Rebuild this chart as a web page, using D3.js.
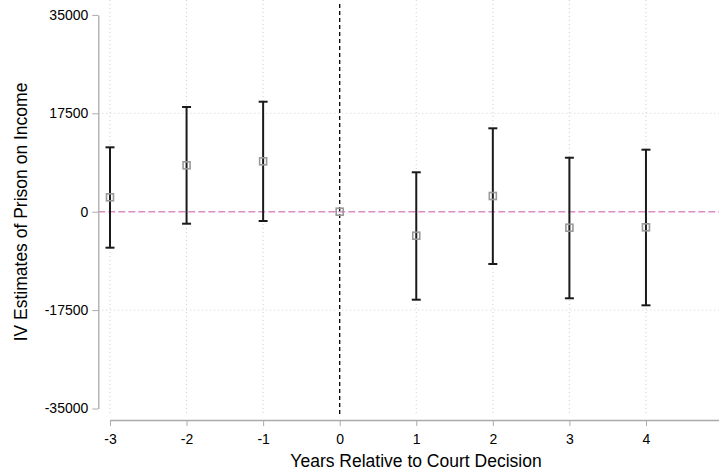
<!DOCTYPE html>
<html><head><meta charset="utf-8">
<script src="https://cdn.jsdelivr.net/npm/d3@7"></script>
<style>body{margin:0;background:#fff}text{font-family:"Liberation Sans",Arial,sans-serif}</style>
</head><body><svg id="c" width="719" height="473"></svg>
<script>
const years = [-3, -2, -1, 0, 1, 2, 3, 4];
const estimates = [2560, 8250, 8960, 0, -4270, 2790, -2850, -2780];
const ciUpper = [11450, 18620, 19560, 0, 7010, 14830, 9600, 11030];
const ciLower = [-6400, -2135, -1650, 0, -15650, -9300, -15400, -16650];
const yTicks = [-35000, -17500, 0, 17500, 35000];
const xTicks = [-3, -2, -1, 0, 1, 2, 3, 4];

const svg = d3.select("#c");
const x = d3.scaleLinear().domain([-3, 4.95]).range([110, 718.7]);
const y = d3.scaleLinear().domain([-35000, 35000]).range([408.5, 14.9]);
const yAxisX = 98.3, xAxisY = 420;
const fmt = d => String(d);

// grid
svg.append("g").selectAll("line").data(xTicks.filter(d => d !== 0)).join("line")
  .attr("x1", d => x(d)).attr("x2", d => x(d)).attr("y1", 0).attr("y2", 416)
  .attr("stroke", "#cfcfcf").attr("stroke-width", 1).attr("stroke-dasharray", "1,3");
svg.append("g").selectAll("line").data([17500, -17500]).join("line")
  .attr("x1", yAxisX).attr("x2", 719).attr("y1", d => y(d)).attr("y2", d => y(d))
  .attr("stroke", "#cfcfcf").attr("stroke-width", 1).attr("stroke-dasharray", "1,3");

// zero line
svg.append("line").attr("x1", yAxisX).attr("x2", 719).attr("y1", y(0)).attr("y2", y(0))
  .attr("stroke", "#dc8cc4").attr("stroke-width", 1.4).attr("stroke-dasharray", "7,3");
// vertical line at 0
svg.append("line").attr("x1", x(0)).attr("x2", x(0)).attr("y1", 4).attr("y2", 416)
  .attr("stroke", "#000").attr("stroke-width", 1.3).attr("stroke-dasharray", "4,3");

// axes
const ya = svg.append("g").attr("transform", `translate(${yAxisX},0)`)
  .call(d3.axisLeft(y).tickValues(yTicks).tickSize(6).tickSizeOuter(0).tickPadding(4).tickFormat(fmt));
ya.select(".domain").attr("stroke", "#aaa").attr("stroke-width", 1.3);
ya.selectAll(".tick line").attr("stroke", "#aaa");
ya.selectAll(".tick text").attr("font-size", 14).attr("fill", "#000");

const xa = svg.append("g").attr("transform", `translate(0,${xAxisY})`)
  .call(d3.axisBottom(x).tickValues(xTicks).tickSize(6).tickSizeOuter(0).tickPadding(8).tickFormat(fmt));
xa.select(".domain").attr("stroke", "#aaa").attr("stroke-width", 1.3);
xa.selectAll(".tick line").attr("stroke", "#aaa");
xa.selectAll(".tick text").attr("font-size", 14).attr("fill", "#000");

// titles
svg.append("text").attr("x", 416).attr("y", 467).attr("text-anchor", "middle")
  .attr("font-size", 17.5).text("Years Relative to Court Decision");
svg.append("text").attr("transform", "translate(27,212) rotate(-90)").attr("text-anchor", "middle")
  .attr("font-size", 17.5).text("IV Estimates of Prison on Income");

// CIs
const data = years.map((d, i) => ({yr: d, est: estimates[i], lo: ciLower[i], hi: ciUpper[i]}));
const g = svg.append("g");
data.filter(d => d.hi !== d.lo).forEach(d => {
  g.append("line").attr("x1", x(d.yr)).attr("x2", x(d.yr)).attr("y1", y(d.hi)).attr("y2", y(d.lo))
    .attr("stroke", "#1a1a1a").attr("stroke-width", 2);
  [d.hi, d.lo].forEach(v => g.append("line").attr("x1", x(d.yr) - 4.5).attr("x2", x(d.yr) + 4.5)
    .attr("y1", y(v)).attr("y2", y(v)).attr("stroke", "#1a1a1a").attr("stroke-width", 2));
});
g.selectAll("rect").data(data).join("rect")
  .attr("x", d => x(d.yr) - 3.5).attr("y", d => y(d.est) - 3.5).attr("width", 7).attr("height", 7)
  .attr("fill", "none").attr("stroke", "#999").attr("stroke-width", 1.6);
</script></body></html>
